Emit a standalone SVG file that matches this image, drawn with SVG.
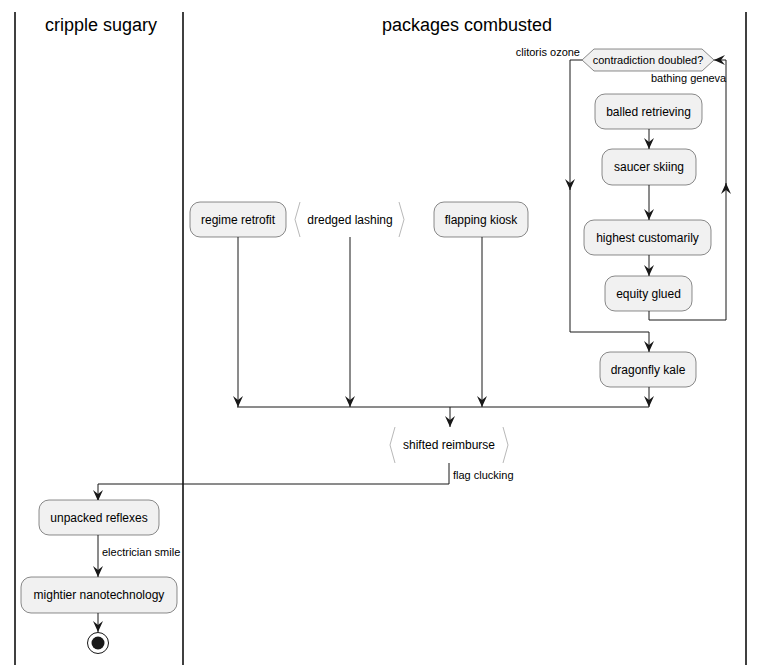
<svg xmlns="http://www.w3.org/2000/svg" width="764" height="665" viewBox="0 0 764 665">
<style>
text{font-family:"Liberation Sans",Arial,sans-serif;fill:#000}
.t{font-size:12px;text-anchor:middle}
.l{font-size:11px}
.h{font-size:18px;text-anchor:middle}
.box{fill:#F1F1F1;stroke:#181818;stroke-width:0.5}
.chev{fill:none;stroke:#888;stroke-width:0.6}
.c{fill:none;stroke:#181818;stroke-width:1}
.lane{stroke:#000;stroke-width:1.5}
</style>
<defs>
<marker id="ah" viewBox="0 0 11 10" refX="11" refY="5" markerWidth="11" markerHeight="10" markerUnits="userSpaceOnUse" orient="auto">
<path d="M0,0 L11,5 L0,10 L4,5 Z" fill="#181818"/>
</marker>
</defs>
<rect width="764" height="665" fill="#fff"/>
<g id="lanes">
<line class="lane" x1="15" y1="12" x2="15" y2="665"/>
<line class="lane" x1="183" y1="12" x2="183" y2="665"/>
<line class="lane" x1="746" y1="12" x2="746" y2="665"/>
<text class="h" x="101" y="31">cripple sugary</text>
<text class="h" x="467" y="31">packages combusted</text>
</g>
<g id="connectors">
<path class="c" d="M582,60 H570 V190" marker-end="url(#ah)"/>
<path class="c" d="M570,188 V332 H649 V352" marker-end="url(#ah)"/>
<path class="c" d="M649,311 V320 H726 V183" marker-end="url(#ah)"/>
<path class="c" d="M726,185 V60 H714" marker-end="url(#ah)"/>
<path class="c" d="M649,129 V149" marker-end="url(#ah)"/>
<path class="c" d="M649,185 V220" marker-end="url(#ah)"/>
<path class="c" d="M649,255 V276" marker-end="url(#ah)"/>
<path class="c" d="M649,387 V407" marker-end="url(#ah)"/>
<path class="c" d="M238,237 V407" marker-end="url(#ah)"/>
<path class="c" d="M350,237 V407" marker-end="url(#ah)"/>
<path class="c" d="M482,237 V407" marker-end="url(#ah)"/>
<path class="c" d="M237,407 H649"/>
<path class="c" d="M450,407 V427" marker-end="url(#ah)"/>
<path class="c" d="M449,463 V484 H98 V501" marker-end="url(#ah)"/>
<path class="c" d="M98,535 V577" marker-end="url(#ah)"/>
<path class="c" d="M98,613 V632" marker-end="url(#ah)"/>
<text class="l" x="580" y="56" text-anchor="end">clitoris ozone</text>
<text class="l" x="651" y="82">bathing geneva</text>
<text class="l" x="453" y="479">flag clucking</text>
<text class="l" x="102" y="556">electrician smile</text>
</g>
<g id="decision">
<polygon class="box" points="582,60 594,49 702,49 714,60 702,71 594,71"/>
<text class="l" x="648" y="64" text-anchor="middle">contradiction doubled?</text>
</g>
<g id="balled"><rect class="box" x="595" y="94" width="107" height="35" rx="10"/><text class="t" x="648.5" y="116">balled retrieving</text></g>
<g id="saucer"><rect class="box" x="602" y="149" width="94" height="36" rx="10"/><text class="t" x="649" y="171">saucer skiing</text></g>
<g id="highest"><rect class="box" x="584" y="220" width="127" height="35" rx="10"/><text class="t" x="647.5" y="242">highest customarily</text></g>
<g id="equity"><rect class="box" x="605" y="276" width="87" height="35" rx="10"/><text class="t" x="648.5" y="298">equity glued</text></g>
<g id="dragonfly"><rect class="box" x="600" y="352" width="96" height="35" rx="10"/><text class="t" x="648" y="374">dragonfly kale</text></g>
<g id="regime"><rect class="box" x="190" y="202" width="96" height="35" rx="10"/><text class="t" x="238" y="224">regime retrofit</text></g>
<g id="dredged"><rect x="296" y="202" width="108" height="35" fill="#fff"/><polyline class="chev" points="300,202 295,219.5 300,237"/><polyline class="chev" points="399,202 404,219.5 399,237"/><text class="t" x="350" y="224">dredged lashing</text></g>
<g id="flapping"><rect class="box" x="434" y="202" width="94" height="35" rx="10"/><text class="t" x="481" y="224">flapping kiosk</text></g>
<g id="shifted"><rect x="391" y="427" width="116" height="36" fill="#fff"/><polyline class="chev" points="395,427 390,445 395,463"/><polyline class="chev" points="503,427 508,445 503,463"/><text class="t" x="449" y="449">shifted reimburse</text></g>
<g id="unpacked"><rect class="box" x="39" y="500" width="120" height="35" rx="10"/><text class="t" x="99" y="522">unpacked reflexes</text></g>
<g id="mightier"><rect class="box" x="21" y="577" width="156" height="36" rx="10"/><text class="t" x="99" y="599">mightier nanotechnology</text></g>
<g id="end"><circle cx="98" cy="643" r="10.5" fill="none" stroke="#181818" stroke-width="1"/><circle cx="98" cy="643" r="6.5" fill="#181818"/></g>
</svg>
